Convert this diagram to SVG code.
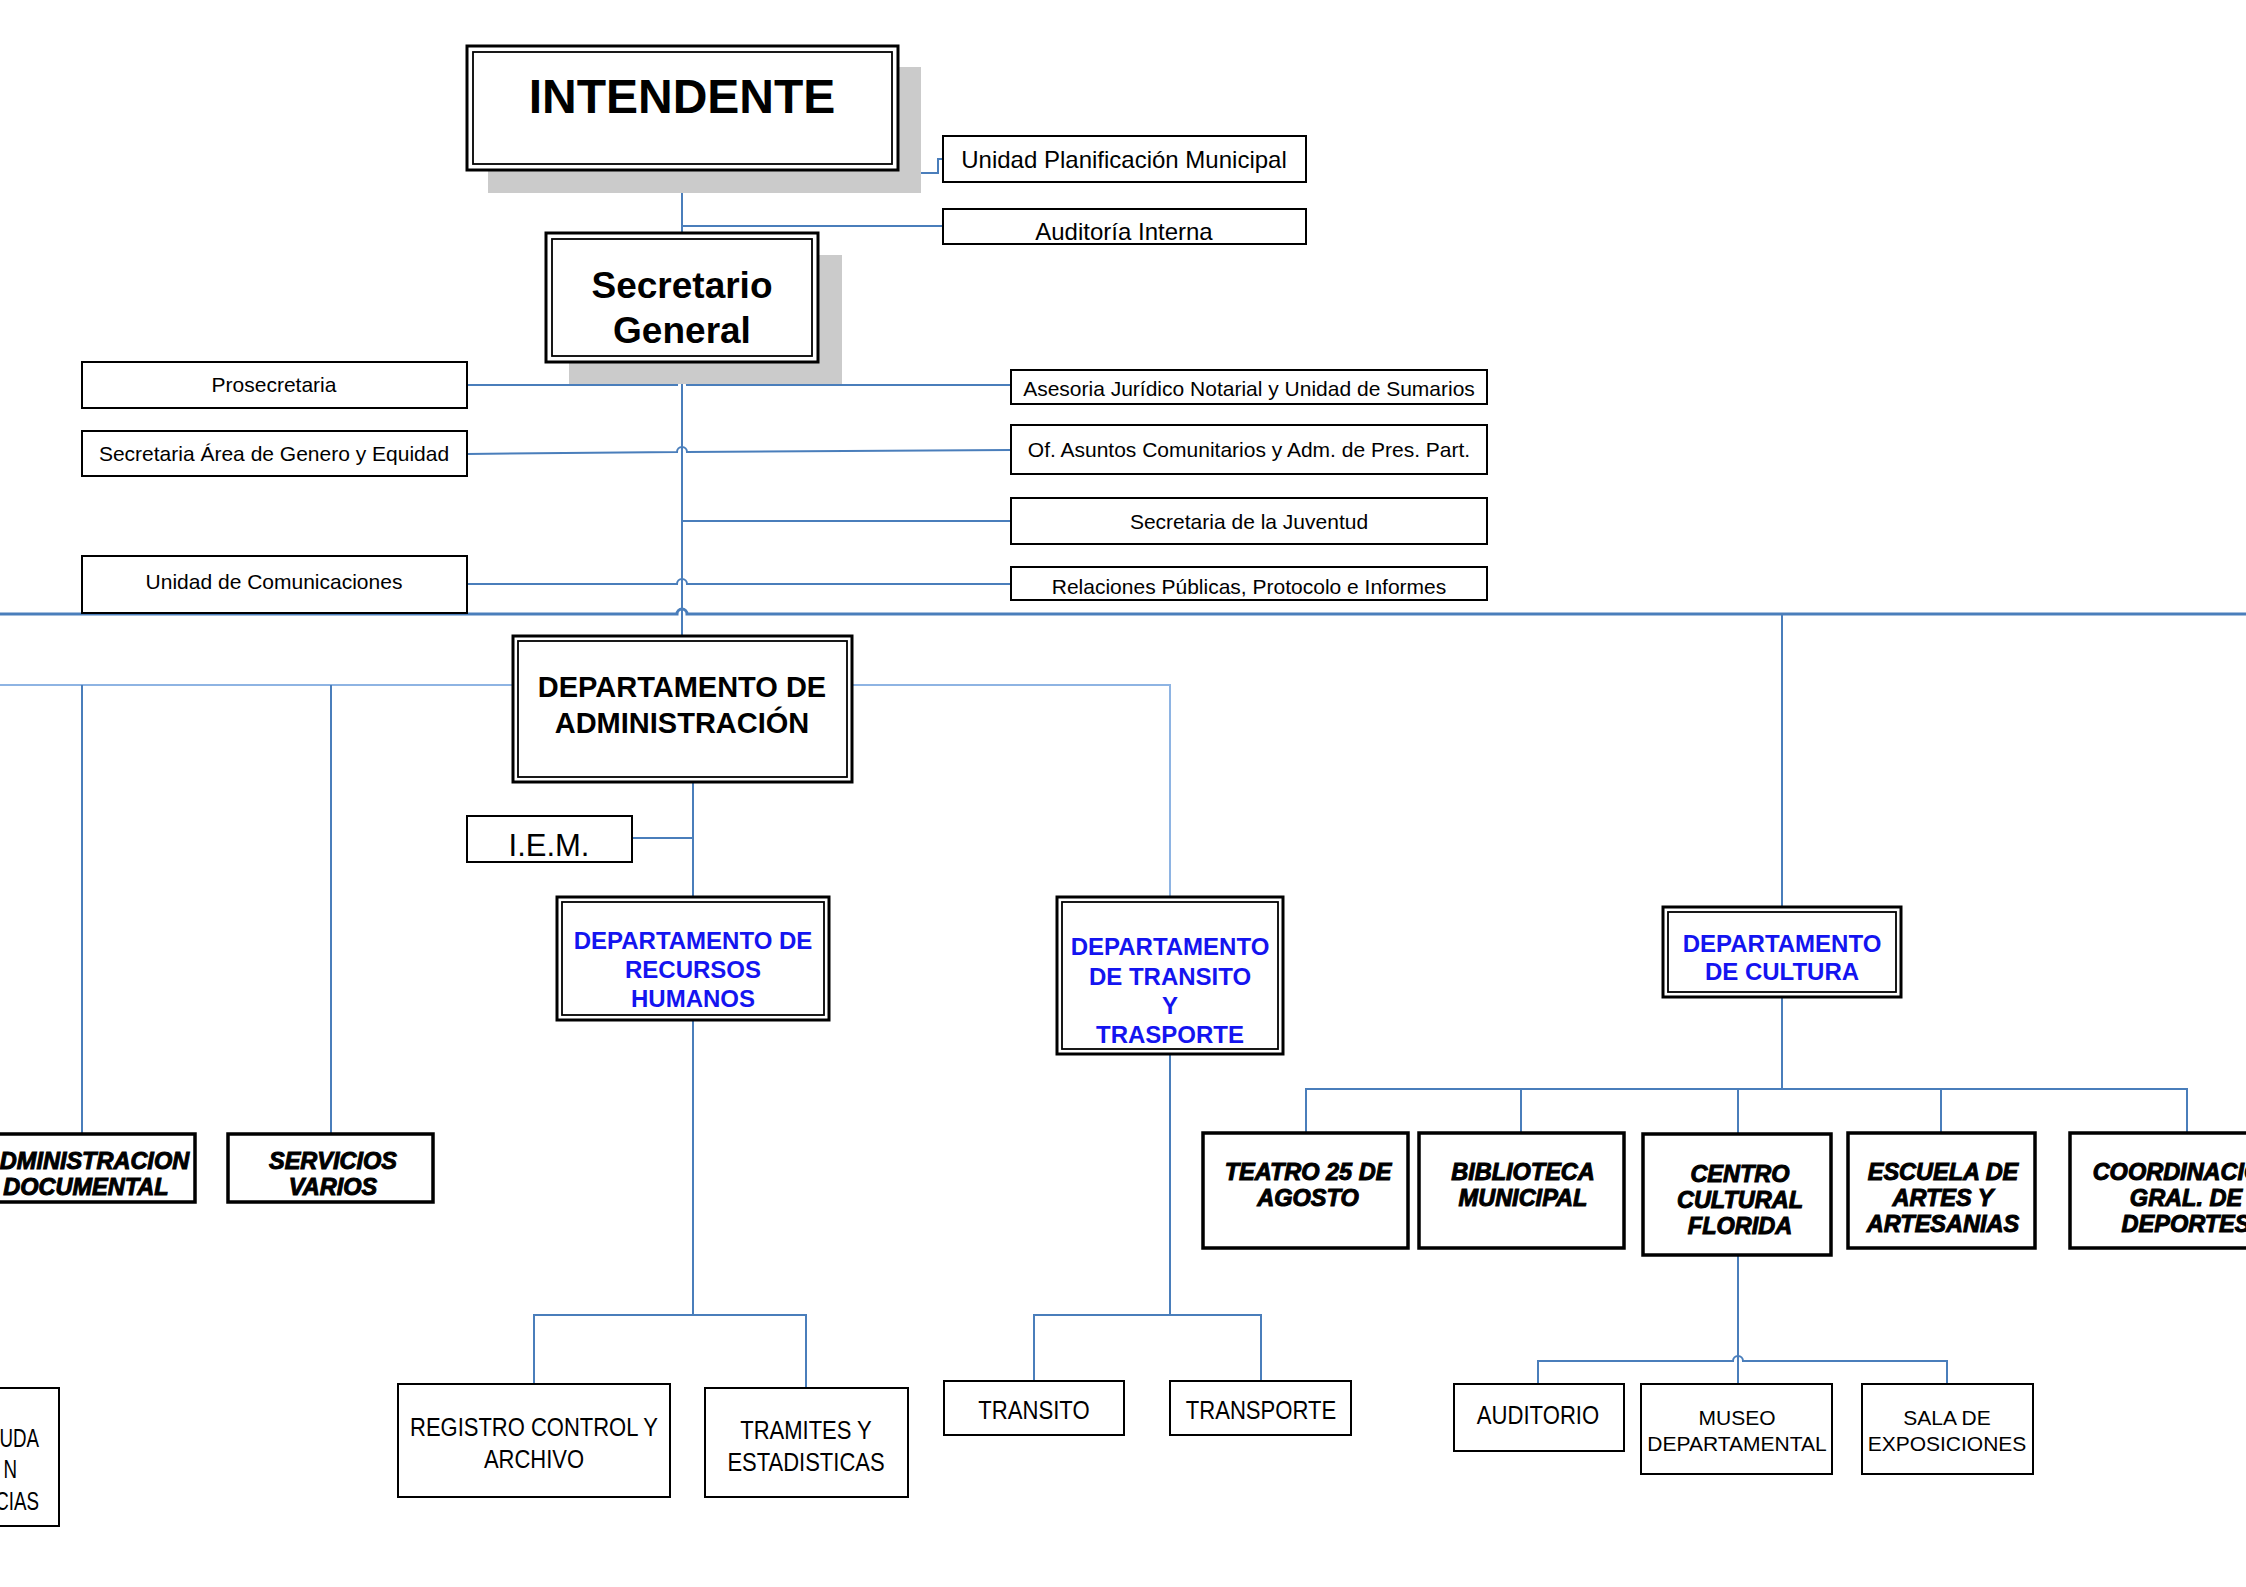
<svg xmlns="http://www.w3.org/2000/svg" width="2246" height="1587" viewBox="0 0 2246 1587">
<style>
.bg{fill:#fff}
.box{fill:#fff;stroke:#000;stroke-width:2}
.bx3{fill:#fff;stroke:#000;stroke-width:3.5}
.outer{fill:#fff;stroke:#000;stroke-width:3}
.inner{fill:none;stroke:#000;stroke-width:1.8}
.shadow{fill:#cbcbcb}
.conn{fill:none;stroke:#4A7EBB;stroke-width:2}
.thick{stroke-width:3}
.lt{stroke:#8EB4E3;stroke-width:2}
.t{font-family:"Liberation Sans",Arial,sans-serif;fill:#000;text-anchor:middle}
.e{text-anchor:end}
.b{font-weight:bold}
.bi{font-weight:bold;font-style:italic;stroke:#000;stroke-width:1}
.blue{fill:#1414F0;font-weight:bold}
</style>
<rect class="bg" x="0" y="0" width="2246" height="1587"/>

<g id="connectors">
<path class="conn" d="M682 170 V233"/>
<path class="conn" d="M682 173 H938 V159 H943"/>
<path class="conn" d="M682 226 H943"/>
<path class="conn" d="M682 362 V636"/>
<path class="conn" d="M467 385 H677 A5 5 0 0 1 687 385 H1011"/>
<path class="conn" d="M467 454 L677 452 A5 5 0 0 1 687 452 L1011 450"/>
<path class="conn" d="M682 521 H1011"/>
<path class="conn" d="M467 584 H677 A5 5 0 0 1 687 584 H1011"/>
<path class="conn thick" d="M0 614 H677 A5 5 0 0 1 687 614 H2246"/>
<path class="conn" d="M1782 614 V907"/>
<path class="conn lt" d="M513 685 H0"/>
<path class="conn" d="M82 685 V1134"/>
<path class="conn" d="M331 685 V1134"/>
<path class="conn lt" d="M852 685 H1170 V897"/>
<path class="conn" d="M693 782 V897"/>
<path class="conn" d="M632 838 H693"/>
<path class="conn" d="M693 1020 V1315"/>
<path class="conn" d="M534 1384 V1315 H806 V1388"/>
<path class="conn" d="M1170 1054 V1315"/>
<path class="conn" d="M1034 1381 V1315 H1261 V1381"/>
<path class="conn" d="M1782 997 V1089"/>
<path class="conn" d="M1306 1133 V1089 H2187 V1133"/>
<path class="conn" d="M1521 1089 V1133"/>
<path class="conn" d="M1738 1089 V1134"/>
<path class="conn" d="M1941 1089 V1133"/>
<path class="conn" d="M1738 1255 V1384"/>
<path class="conn" d="M1538 1384 V1361 H1733 A5 5 0 0 1 1743 1361 H1947 V1384"/>
</g>

<g id="intendente">
<rect class="shadow" x="488" y="67" width="433" height="126"/>
<rect class="outer" x="467" y="46" width="431" height="124"/>
<rect class="inner" x="473" y="52" width="419" height="112"/>
<text class="t b" x="682" y="113" font-size="48">INTENDENTE</text>
</g>

<g id="unidad-planificacion">
<rect class="box" x="943" y="136" width="363" height="46"/>
<text class="t" x="1124" y="168" font-size="24">Unidad Planificación Municipal</text>
</g>

<g id="auditoria">
<rect class="box" x="943" y="209" width="363" height="35"/>
<text class="t" x="1124" y="240" font-size="24">Auditoría Interna</text>
</g>

<g id="secretario">
<rect class="shadow" x="569" y="255" width="273" height="129"/>
<rect class="outer" x="546" y="233" width="272" height="129"/>
<rect class="inner" x="552" y="239" width="260" height="117"/>
<text class="t b" x="682" y="298" font-size="37">Secretario</text>
<text class="t b" x="682" y="343" font-size="37">General</text>
</g>

<g id="prosecretaria">
<rect class="box" x="82" y="362" width="385" height="46"/>
<text class="t" x="274" y="392" font-size="21">Prosecretaria</text>
</g>

<g id="asesoria">
<rect class="box" x="1011" y="370" width="476" height="34"/>
<text class="t" x="1249" y="396" font-size="21">Asesoria Jurídico Notarial y Unidad de Sumarios</text>
</g>

<g id="genero">
<rect class="box" x="82" y="431" width="385" height="45"/>
<text class="t" x="274" y="461" font-size="21">Secretaria Área de Genero y Equidad</text>
</g>

<g id="asuntos">
<rect class="box" x="1011" y="425" width="476" height="49"/>
<text class="t" x="1249" y="457" font-size="21">Of. Asuntos Comunitarios y Adm. de Pres. Part.</text>
</g>

<g id="juventud">
<rect class="box" x="1011" y="498" width="476" height="46"/>
<text class="t" x="1249" y="529" font-size="21">Secretaria de la Juventud</text>
</g>

<g id="comunicaciones">
<rect class="box" x="82" y="556" width="385" height="57"/>
<text class="t" x="274" y="589" font-size="21">Unidad de Comunicaciones</text>
</g>

<g id="relaciones">
<rect class="box" x="1011" y="567" width="476" height="33"/>
<text class="t" x="1249" y="594" font-size="21">Relaciones Públicas, Protocolo e Informes</text>
</g>

<g id="dep-administracion">
<rect class="outer" x="513" y="636" width="339" height="146"/>
<rect class="inner" x="518" y="641" width="329" height="136"/>
<text class="t b" x="682" y="697" font-size="29">DEPARTAMENTO DE</text>
<text class="t b" x="682" y="733" font-size="29">ADMINISTRACIÓN</text>
</g>

<g id="iem">
<rect class="box" x="467" y="816" width="165" height="46"/>
<text class="t" x="549" y="856" font-size="31">I.E.M.</text>
</g>

<g id="dep-rrhh">
<rect class="outer" x="557" y="897" width="272" height="123"/>
<rect class="inner" x="562" y="902" width="262" height="113"/>
<text class="t blue" x="693" y="949" font-size="24">DEPARTAMENTO DE</text>
<text class="t blue" x="693" y="978" font-size="24">RECURSOS</text>
<text class="t blue" x="693" y="1007" font-size="24">HUMANOS</text>
</g>

<g id="dep-transito">
<rect class="outer" x="1057" y="897" width="226" height="157"/>
<rect class="inner" x="1062" y="902" width="216" height="147"/>
<text class="t blue" x="1170" y="955" font-size="24">DEPARTAMENTO</text>
<text class="t blue" x="1170" y="985" font-size="24">DE TRANSITO</text>
<text class="t blue" x="1170" y="1014" font-size="24">Y</text>
<text class="t blue" x="1170" y="1043" font-size="24">TRASPORTE</text>
</g>

<g id="dep-cultura">
<rect class="outer" x="1663" y="907" width="238" height="90"/>
<rect class="inner" x="1668" y="912" width="228" height="80"/>
<text class="t blue" x="1782" y="952" font-size="24">DEPARTAMENTO</text>
<text class="t blue" x="1782" y="980" font-size="24">DE CULTURA</text>
</g>

<g id="adm-documental">
<rect class="bx3" x="-20" y="1134" width="215" height="68"/>
<text class="t bi" x="86" y="1169" font-size="23.5">ADMINISTRACION</text>
<text class="t bi" x="86" y="1195" font-size="23.5">DOCUMENTAL</text>
</g>

<g id="servicios-varios">
<rect class="bx3" x="228" y="1134" width="205" height="68"/>
<text class="t bi" x="333" y="1169" font-size="23.5">SERVICIOS</text>
<text class="t bi" x="333" y="1195" font-size="23.5">VARIOS</text>
</g>

<g id="partial-box">
<rect class="box" x="-20" y="1388" width="79" height="138"/>
<text class="t e" transform="translate(39 1447) scale(0.75 1)" font-size="25">UDA</text>
<text class="t e" transform="translate(17 1478) scale(0.75 1)" font-size="25">N</text>
<text class="t e" transform="translate(39 1510) scale(0.75 1)" font-size="25">CIAS</text>
</g>

<g id="registro">
<rect class="box" x="398" y="1384" width="272" height="113"/>
<text class="t" transform="translate(534 1436) scale(0.88 1)" font-size="25">REGISTRO CONTROL Y</text>
<text class="t" transform="translate(534 1468) scale(0.88 1)" font-size="25">ARCHIVO</text>
</g>

<g id="tramites">
<rect class="box" x="705" y="1388" width="203" height="109"/>
<text class="t" transform="translate(806 1439) scale(0.88 1)" font-size="25">TRAMITES Y</text>
<text class="t" transform="translate(806 1471) scale(0.88 1)" font-size="25">ESTADISTICAS</text>
</g>

<g id="transito">
<rect class="box" x="944" y="1381" width="180" height="54"/>
<text class="t" transform="translate(1034 1419) scale(0.85 1)" font-size="26">TRANSITO</text>
</g>

<g id="transporte">
<rect class="box" x="1170" y="1381" width="181" height="54"/>
<text class="t" transform="translate(1261 1419) scale(0.85 1)" font-size="26">TRANSPORTE</text>
</g>

<g id="teatro">
<rect class="bx3" x="1203" y="1133" width="205" height="115"/>
<text class="t bi" x="1308" y="1180" font-size="23.5">TEATRO 25 DE</text>
<text class="t bi" x="1308" y="1206" font-size="23.5">AGOSTO</text>
</g>

<g id="biblioteca">
<rect class="bx3" x="1419" y="1133" width="205" height="115"/>
<text class="t bi" x="1523" y="1180" font-size="23.5">BIBLIOTECA</text>
<text class="t bi" x="1523" y="1206" font-size="23.5">MUNICIPAL</text>
</g>

<g id="centro-cultural">
<rect class="bx3" x="1643" y="1134" width="188" height="121"/>
<text class="t bi" x="1740" y="1182" font-size="23.5">CENTRO</text>
<text class="t bi" x="1740" y="1208" font-size="23.5">CULTURAL</text>
<text class="t bi" x="1740" y="1234" font-size="23.5">FLORIDA</text>
</g>

<g id="escuela">
<rect class="bx3" x="1848" y="1133" width="187" height="115"/>
<text class="t bi" x="1943" y="1180" font-size="23.5">ESCUELA DE</text>
<text class="t bi" x="1943" y="1206" font-size="23.5">ARTES Y</text>
<text class="t bi" x="1943" y="1232" font-size="23.5">ARTESANIAS</text>
</g>

<g id="deportes">
<rect class="bx3" x="2070" y="1133" width="210" height="115"/>
<text class="t bi" x="2186" y="1180" font-size="23.5">COORDINACION</text>
<text class="t bi" x="2186" y="1206" font-size="23.5">GRAL. DE</text>
<text class="t bi" x="2186" y="1232" font-size="23.5">DEPORTES</text>
</g>

<g id="auditorio">
<rect class="box" x="1454" y="1384" width="170" height="67"/>
<text class="t" transform="translate(1538 1424) scale(0.85 1)" font-size="26">AUDITORIO</text>
</g>

<g id="museo">
<rect class="box" x="1641" y="1384" width="191" height="90"/>
<text class="t" x="1737" y="1425" font-size="21">MUSEO</text>
<text class="t" x="1737" y="1451" font-size="21">DEPARTAMENTAL</text>
</g>

<g id="sala">
<rect class="box" x="1862" y="1384" width="171" height="90"/>
<text class="t" x="1947" y="1425" font-size="21">SALA DE</text>
<text class="t" x="1947" y="1451" font-size="21">EXPOSICIONES</text>
</g>
</svg>
